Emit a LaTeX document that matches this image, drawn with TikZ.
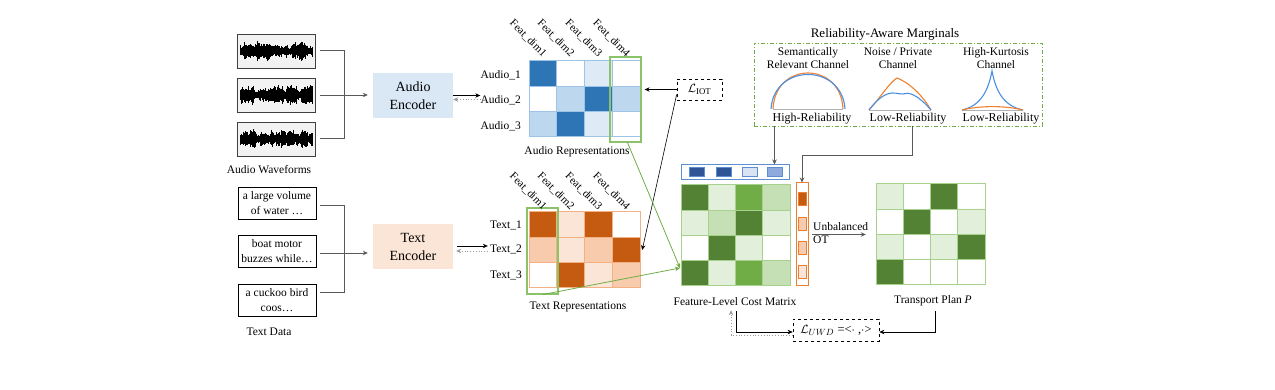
\documentclass[tikz,border=0pt]{standalone}
\usepackage{fontspec}
\setmainfont{Liberation Serif}
\usetikzlibrary{arrows.meta,calc}
\definecolor{ab1}{HTML}{2E75B6}
\definecolor{ab2}{HTML}{BDD7EE}
\definecolor{ab3}{HTML}{DEEBF7}
\definecolor{abd}{HTML}{9DC3E6}
\definecolor{or1}{HTML}{C55A11}
\definecolor{or2}{HTML}{F8CBAD}
\definecolor{or3}{HTML}{FBE5D6}
\definecolor{ord}{HTML}{F4B183}
\definecolor{orv}{HTML}{ED7D31}
\definecolor{g1}{HTML}{548235}
\definecolor{g2}{HTML}{70AD47}
\definecolor{g3}{HTML}{C5E0B4}
\definecolor{g4}{HTML}{E2EFDA}
\definecolor{gd}{HTML}{A9D18E}
\definecolor{hl}{HTML}{8CC26A}
\definecolor{encb}{HTML}{DAE8F5}
\definecolor{enco}{HTML}{FBE5D6}
\definecolor{bq1}{HTML}{2F5597}
\definecolor{bq3}{HTML}{DAE3F3}
\definecolor{bq4}{HTML}{8FAADC}
\definecolor{bvb}{HTML}{5B8FD0}
\definecolor{cblue}{HTML}{4A90E2}
\definecolor{corange}{HTML}{F08030}
\definecolor{lgray}{HTML}{595959}
\tikzset{
  lbl/.style={font=\fontsize{11.5}{13}\selectfont, inner sep=0pt},
  clbl/.style={font=\fontsize{11}{13}\selectfont, inner sep=0pt, rotate=-45, anchor=east},
  enc/.style={inner sep=0pt, minimum width=80pt, minimum height=45pt, align=center, font=\fontsize{14}{18}\selectfont},
  wbox/.style={draw=black!75, fill=black!5, line width=0.9pt, minimum width=78pt, minimum height=34pt, inner sep=0pt},
  tbox/.style={draw=black, line width=0.9pt, minimum width=78pt, minimum height=32pt, inner sep=0pt, align=center, font=\fontsize{11.5}{15}\selectfont},
  arr/.style={-{Stealth[length=5pt,width=4.5pt]}, line width=0.8pt},
  garr/.style={-{Stealth[length=5pt,width=4.5pt]}, line width=0.8pt, black!40, dotted},
  hlbox/.style={draw=hl, line width=1.2pt, inner sep=0pt},
  bracket/.style={lgray, line width=1pt},
}
\begin{document}
\begin{tikzpicture}[x=1pt,y=-1pt]
\useasboundingbox (0,0) rectangle (1275,390);

% ---------- audio waveforms
\pgfmathsetseed{5}
\node[wbox] (w1) at (276.5,51) {};
\node[wbox] (w2) at (276.5,95) {};
\node[wbox] (w3) at (276.5,139) {};
\foreach \yc in {51,95,139}{
  \gdef\env{6}
  \foreach \x in {240.5,241,...,312.5}{
    \pgfmathsetmacro\ne{max(3.5,min(15,\env+2.2*(2*rnd-1)+0.12*(6.5-\env)))}
    \xdef\env{\ne}
    \pgfmathsetmacro\hu{\env*(0.6+0.4*rnd)}
    \pgfmathsetmacro\hd{\env*(0.6+0.4*rnd)}
    \draw[line width=0.75pt] ({\x},{\yc-\hu}) -- ({\x},{\yc+\hd});
  }
}
\node[lbl] (wl) at (269,170) {Audio Waveforms};

% ---------- text data
\node[tbox] (t1) at (277,203) {a large volume\\of water \dots};
\node[tbox] (t2) at (277,251) {boat motor\\buzzes while\dots};
\node[tbox] (t3) at (277,300) {a cuckoo bird\\coos\dots};
\node[lbl] (tl) at (269,332) {Text Data};

% ---------- encoders
\node[enc, fill=encb] (aenc) at (413,95.5) {Audio\\Encoder};
\node[enc, fill=enco] (tenc) at (413,247) {Text\\Encoder};

\coordinate (ja) at (344,95);
\draw[bracket] ([xshift=4pt]w1.east) -| (ja);
\draw[bracket] ([xshift=4pt]w3.east) -| (ja);
\draw[arr, lgray] ([xshift=4pt]w2.east) -- ([xshift=-5pt]aenc.west |- w2.east);
\coordinate (jt) at (344,249);
\draw[bracket] ([xshift=4pt,yshift=-3pt]t1.east) -| (jt);
\draw[bracket] ([xshift=4pt,yshift=7pt]t3.east) -| (jt);
\draw[arr, lgray] ([xshift=4pt,yshift=-2pt]t2.east) -- ([xshift=-5pt,yshift=-2pt]tenc.west |- t2.east);

% ---------- audio matrix
\foreach \r/\cl in {0/{ab1,white,ab3,white},1/{white,ab2,ab1,ab2},2/{ab2,ab1,ab3,white}}{
  \foreach \cc [count=\k from 0] in \cl {
    \filldraw[fill=\cc, draw=abd, line width=1pt] ({529+\k*27.75},{61+\r*25.33}) rectangle ++(27.75,25.33);
  }
}
\node[inner sep=0pt, minimum width=111pt, minimum height=76pt] (amat) at (584.5,99) {};
\node[hlbox, minimum width=31pt, minimum height=85pt] (ahl) at (625.5,99.5) {};
\foreach \k in {1,2,3,4}{
  \node[clbl] at ({529+(\k-0.5)*27.75+2},55) {Feat\_dim\k};
}
\node[lbl, anchor=east] (a1) at (521,75.5) {Audio\_1};
\node[lbl, anchor=east] (a2) at (521,100.5) {Audio\_2};
\node[lbl, anchor=east] (a3) at (521,126) {Audio\_3};
\node[lbl] (al) at (577,152) {Audio Representations};

% ---------- text matrix
\foreach \r/\cl in {0/{or1,or3,or1,white},1/{or2,or3,or2,or1},2/{white,or1,or3,or2}}{
  \foreach \cc [count=\k from 0] in \cl {
    \filldraw[fill=\cc, draw=ord, line width=1pt] ({529+\k*27.75},{212+\r*25.33}) rectangle ++(27.75,25.33);
  }
}
\node[inner sep=0pt, minimum width=111pt, minimum height=76pt] (tmat) at (584.5,250) {};
\node[hlbox, minimum width=31pt, minimum height=86pt] (thl) at (542.5,251) {};
\foreach \k in {1,2,3,4}{
  \node[clbl] at ({529+(\k-0.5)*27.75+2},208) {Feat\_dim\k};
}
\node[lbl, anchor=east] (tx1) at (522,225) {Text\_1};
\node[lbl, anchor=east] (tx2) at (522,249.5) {Text\_2};
\node[lbl, anchor=east] (tx3) at (522,275) {Text\_3};
\node[lbl] (tml) at (578,307) {Text Representations};

% encoder <-> matrix arrows
\draw[arr] (aenc.east) -- (aenc.east -| a2.west);
\draw[garr] ([yshift=-4pt]aenc.east -| a2.west) -- ([yshift=-4pt]aenc.east);
\draw[arr] ([xshift=4pt,yshift=1pt]tenc.east) -- ([xshift=-2pt,yshift=1pt]tenc.east -| tx2.west);
\draw[garr] ([xshift=-2pt,yshift=-4pt]tenc.east -| tx2.west) -- ([xshift=3pt,yshift=-4pt]tenc.east);

% ---------- L_IOT
\node[draw, dashed, line width=0.7pt, minimum width=45pt, minimum height=21pt, inner sep=0pt, font=\fontsize{12.5}{14}\selectfont] (liot) at (699.5,89.5) {$\mathcal{L}_{\mathrm{IOT}}$};
\draw[arr] (liot.west) -- ([xshift=3pt]liot.west -| ahl.east);
\draw[arr, line width=0.6pt] ([yshift=-5pt]liot.west) -- ([xshift=2pt]tmat.east);

% ---------- reliability-aware marginals
\node[font=\fontsize{13}{15}\selectfont, inner sep=0pt] (relt) at (885,34) {Reliability-Aware Marginals};
\node[draw=g2, line width=0.8pt, dash pattern=on 4pt off 2pt on 1pt off 2pt, minimum width=288pt, minimum height=83pt, inner sep=0pt] (rel) at (898,84.5) {};
\node[lbl, align=center, font=\fontsize{11.5}{13}\selectfont] at (808,58.5) {Semantically\\Relevant Channel};
\node[lbl, align=center, font=\fontsize{11.5}{13}\selectfont] at (898,58.5) {Noise / Private\\Channel};
\node[lbl, align=center, font=\fontsize{11.5}{13}\selectfont] at (996,58.5) {High-Kurtosis\\Channel};
% curve 1
\draw[black!30, line width=0.8pt] (773,109) -- (843,109);
\draw[corange, line width=1.1pt] (773,109) .. controls (775,61) and (841,61) .. (843,109);
\draw[cblue, line width=1.1pt] (771,109) .. controls (774,63) and (842,63) .. (845,109);
% curve 2
\draw[black!30, line width=0.8pt] (869,110) -- (931,110);
\draw[corange, line width=1.1pt] (869,110) .. controls (880,98) and (890,82) .. (897,78) .. controls (912,84) and (924,98) .. (931,110);
\draw[cblue, line width=1.1pt] (869,110) .. controls (878,98) and (886,93) .. (893,93) .. controls (898,93) and (900,94.5) .. (903,94) .. controls (908,92) and (916,93) .. (931,110);
% curve 3
\draw[black!30, line width=0.8pt] (962,110) -- (1023,110);
\draw[cblue, line width=1.1pt] (962,110) .. controls (980,106) and (988,92) .. (992,71) .. controls (996,92) and (1004,106) .. (1023,110);
\draw[corange, line width=1.1pt] (962,110) .. controls (980,105.5) and (1005,105.5) .. (1023,110);
\node[lbl, font=\fontsize{12}{14}\selectfont] (hr) at (812,118.5) {High-Reliability};
\node[lbl, font=\fontsize{12}{14}\selectfont] (lr1) at (908,118.5) {Low-Reliability};
\node[lbl, font=\fontsize{12}{14}\selectfont] (lr2) at (1001,118.5) {Low-Reliability};

% ---------- blue vector
\node[draw=bvb, line width=1pt, fill=white, minimum width=108pt, minimum height=15pt, inner sep=0pt] (bv) at (735,172.5) {};
\foreach \xx/\cc [count=\n] in {696.5/bq1,723.5/bq1,749.5/bq3,774.5/bq4}{
  \node[draw=bvb, fill=\cc, line width=0.8pt, minimum width=15pt, minimum height=9pt, inner sep=0pt] (bq\n) at (\xx,171.5) {};
}

% ---------- cost matrix
\foreach \r/\cl in {0/{g1,g4,g2,g3},1/{g4,g3,g1,g4},2/{white,g1,g4,white},3/{g1,g4,g2,g3}}{
  \foreach \cc [count=\k from 0] in \cl {
    \filldraw[fill=\cc, draw=gd, line width=1pt] ({681+\k*27.25},{185+\r*25.25}) rectangle ++(27.25,25.25);
  }
}
\node[inner sep=0pt, minimum width=109pt, minimum height=101pt] (cm) at (735.5,235.5) {};
\coordinate (cmin) at (680,268);
\node[lbl] (cml) at (735,302) {Feature-Level Cost Matrix};

% green arrows
\draw[arr, g2] ([xshift=2pt]ahl.south) -- (cmin);
\draw[arr, g2] (thl.south) -- (cmin);

% ---------- orange vector
\node[draw=orv, line width=1pt, fill=white, minimum width=12pt, minimum height=103pt, inner sep=0pt] (ov) at (802,234.5) {};
\foreach \yy/\cc in {199/or1,223.5/or2,247.5/or2,271.5/or3}{
  \node[draw=orv, fill=\cc, line width=0.7pt, minimum width=8pt, minimum height=13pt, inner sep=0pt] at (802,\yy) {};
}

% marginal arrows
\draw[arr, lgray] (bq4 |- rel.south) -- (bq4 |- bv.north);
\coordinate (lrd) at (912,126);
\draw[arr, lgray] (lrd) -- ++(0,29) -| (ov.north);

% ---------- transport plan
\foreach \r/\cl in {0/{g4,white,g1,white},1/{white,g1,white,g4},2/{g4,white,g4,g1},3/{g1,white,white,white}}{
  \foreach \cc [count=\k from 0] in \cl {
    \filldraw[fill=\cc, draw=gd, line width=1pt] ({876+\k*27.25},{184+\r*25.25}) rectangle ++(27.25,25.25);
  }
}
\node[inner sep=0pt, minimum width=109pt, minimum height=101pt] (tp) at (930.5,234.5) {};
\node[lbl] (tpl) at (933,301) {Transport Plan \textit{P}};

% unbalanced OT
\draw[arr, lgray, shorten <=3pt, shorten >=10pt] (ov.east) -- (ov.east -| tp.west);
\node[lbl, align=left, anchor=north west] (uot) at (813,222.5) {Unbalanced\\OT};

% ---------- L_UWD
\node[draw, dashed, line width=0.7pt, minimum width=86pt, minimum height=22pt, inner sep=0pt, font=\fontsize{12.5}{14}\selectfont] (luwd) at (836,330) {$\mathcal{L}_{UWD}$ =<$\cdot$ ,$\cdot$>};
\draw[arr] ([xshift=1pt,yshift=-5pt]cml.south) |- ([yshift=-2pt]luwd.west);
\draw[garr] ([yshift=-5pt]luwd.west) -| ([xshift=-4pt,yshift=-4pt]cml.south);
\draw[arr] ([xshift=2pt,yshift=-5pt]tpl.south) |- ([yshift=-2pt]luwd.east);
\end{tikzpicture}
\end{document}
